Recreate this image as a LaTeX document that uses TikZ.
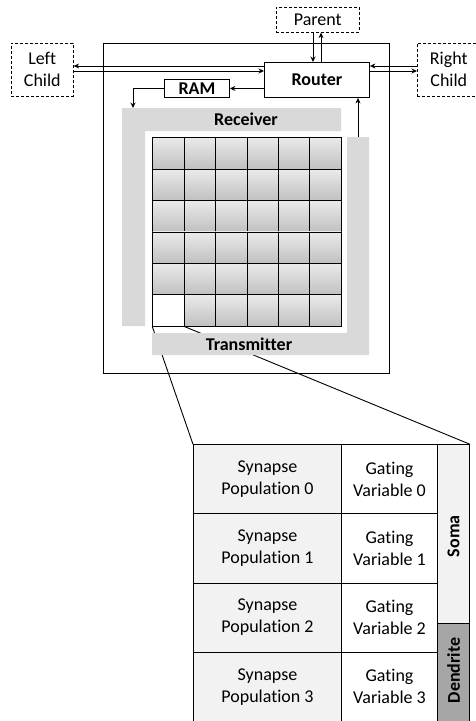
\documentclass[tikz,border=0pt]{standalone}
\usepackage{fontspec}
\setmainfont{Carlito}[Ligatures={NoCommon}]
\usetikzlibrary{arrows.meta,calc}
\definecolor{bargray}{RGB}{217,217,217}
\definecolor{cellfill}{RGB}{242,242,242}
\definecolor{dendfill}{RGB}{166,166,166}
\definecolor{petop}{RGB}{234,234,234}
\definecolor{pebot}{RGB}{192,192,192}
\begin{document}
\begin{tikzpicture}[x=1pt,y=-1pt,
  font=\fontsize{18}{22}\selectfont,
  ext/.style={draw, dash pattern=on 3pt off 2pt, line width=0.6pt, inner sep=0pt,
    align=center, anchor=north west},
  blk/.style={draw, line width=0.9pt, inner sep=0pt, anchor=north west,
    font=\fontsize{18}{22}\selectfont\bfseries},
  sig/.style={line width=0.9pt, -{Stealth[length=5.5pt,width=5pt]}},
  pe/.style={draw, line width=0.9pt, top color=petop, bottom color=pebot,
    minimum width=31.4pt, minimum height=31.4pt, inner sep=0pt, anchor=north west},
  tcell/.style={draw, line width=1pt, inner sep=0pt, align=center, anchor=north west,
    minimum height=69.1pt},
  barlabel/.style={font=\fontsize{18}{22}\selectfont\bfseries, inner sep=0pt},
  zoomline/.style={line width=0.9pt}
]
\useasboundingbox (0,0) rectangle (475,721);

% chip outline
\node[draw, line width=1.2pt, minimum width=286pt, minimum height=330pt,
  inner sep=0pt, anchor=north west] (chip) at (103,43) {};

% external neighbours
\node[ext, minimum width=83pt, minimum height=25pt] (parent) at (276,7) {Parent};
\node[ext, minimum width=62pt, minimum height=53pt] (lchild) at (11,43) {Left\\Child};
\node[ext, minimum width=63pt, minimum height=53pt] (rchild) at (417,43) {Right\\Child};

% router and memory
\node[blk, minimum width=105pt, minimum height=35pt] (router) at (264,62) {Router};
\node[blk, minimum width=65pt, minimum height=18pt] (ram) at (164,79) {RAM};

% 6x6 array of processing elements
\foreach \r in {0,...,5}{
  \foreach \c in {0,...,5}{
    \node[pe] (pe-\r-\c) at ({152.3+31.4*\c},{137.3+31.4*\r}) {};
  }
}
\node[draw, fill=white, line width=0.9pt, minimum width=31.4pt, minimum height=31.4pt,
  inner sep=0pt, anchor=north west] (neuron) at (152.3,294.3) {};

% expanded neuron memory
\foreach \k in {0,...,3}{
  \node[tcell, fill=cellfill, minimum width=148pt] (syn\k) at (193,{444.3+69.1*\k})
    {Synapse\\Population \k};
  \node[tcell, fill=white, minimum width=96pt] (gate\k) at (341,{444.3+69.1*\k})
    {Gating\\Variable \k};
}
\node[draw, line width=1pt, fill=cellfill, minimum width=32pt, minimum height=178.7pt,
  inner sep=0pt, anchor=north west] (soma) at (437,444.3) {};
\node[draw, line width=1pt, fill=dendfill, minimum width=32pt, minimum height=97.7pt,
  inner sep=0pt, anchor=north west] (dendrite) at (437,623) {};
\node[barlabel, rotate=90] (somalabel) at ([yshift=-2pt]soma.center) {Soma};
\node[barlabel, rotate=90] (dendlabel) at ([yshift=2pt]dendrite.center) {Dendrite};

% zoom lines from the neuron to its memory
\draw[zoomline] (neuron.south west) -- (syn0.north west);
\draw[zoomline] (neuron.south east) -- (soma.north east);

% receiver and transmitter buses
\fill[bargray] (122,108) -- (341,108) -- (341,131) -- (145,131) -- (145,326) -- (122,326) -- cycle;
\fill[bargray] (369,137) -- (369,355) -- (152,355) -- (152,333) -- (347,333) -- (347,137) -- cycle;
\node[barlabel] (rxlabel) at (246,119.5) {Receiver};
\node[barlabel] (txlabel) at (249,344) {Transmitter};
\coordinate (rxin) at (133,108);
\coordinate (txout) at (358,137);

% links
\draw[sig] ($(router.north west)+(0,4)$) -- ($(lchild.north east)+(0,23)$);
\draw[sig] ($(lchild.north east)+(0,28)$) -- ($(router.north west)+(0,9)$);
\draw[sig] ($(rchild.north west)+(0,23)$) -- ($(router.north east)+(0,4)$);
\draw[sig] ($(router.north east)+(0,9)$) -- ($(rchild.north west)+(0,28)$);
\draw[sig] ($(parent.south west)+(37,0)$) -- ($(router.north west)+(49,0)$);
\draw[sig] ($(router.north west)+(57,0)$) -- ($(parent.south west)+(45,0)$);
\draw[sig] (router.west |- ram.east) -- (ram.east);
\draw[sig] (ram.west) -| (rxin);
\draw[sig] (txout) -- (txout |- router.south);
\end{tikzpicture}
\end{document}
